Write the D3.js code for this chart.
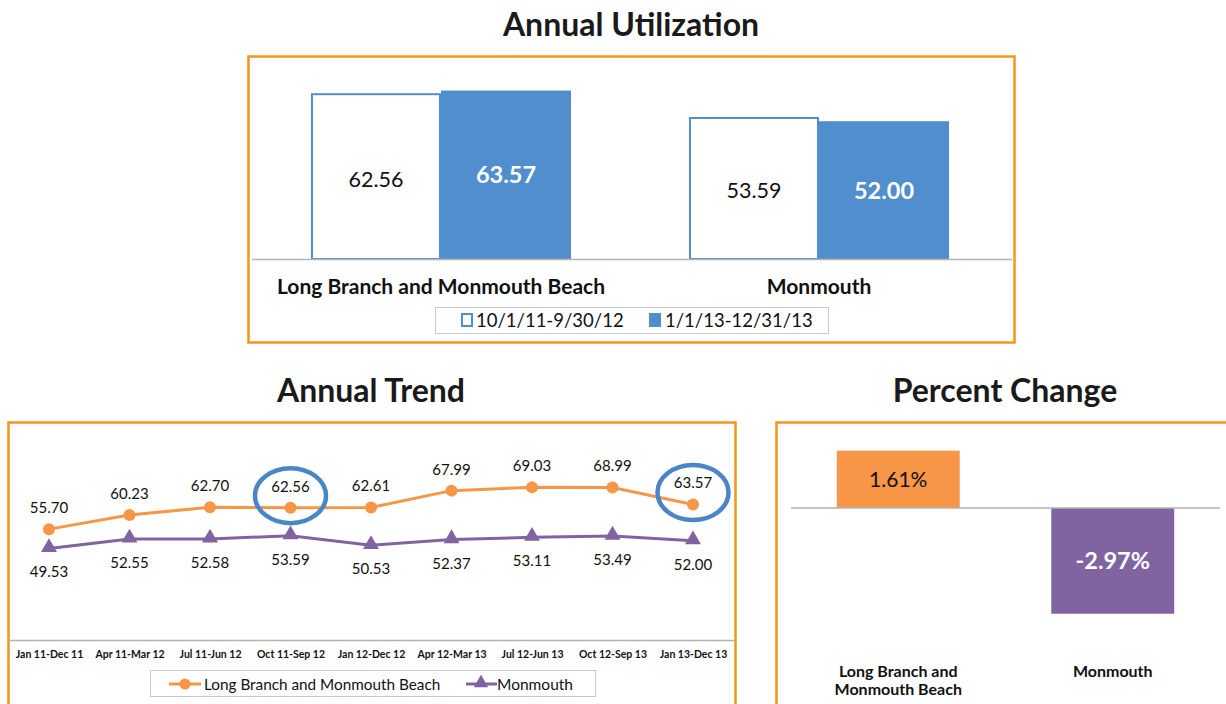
<!DOCTYPE html>
<html>
<head>
<meta charset="utf-8">
<script src="https://cdn.jsdelivr.net/npm/d3@7"></script>
<style>
  html, body { margin: 0; padding: 0; background: #fff; }
  svg { display: block; font-family: Lato, "Open Sans", sans-serif; }
</style>
</head>
<body>
<svg id="chart" width="1226" height="704"></svg>
<script>
// ---- Annual Utilization ----
const utilCategories = ["Long Branch and Monmouth Beach", "Monmouth"];
const utilPeriods = ["10/1/11-9/30/12", "1/1/13-12/31/13"];
const utilPrior = [62.56, 53.59];
const utilCurrent = [63.57, 52.00];

// ---- Annual Trend ----
const trendPeriods = ["Jan 11-Dec 11", "Apr 11-Mar 12", "Jul 11-Jun 12", "Oct 11-Sep 12",
  "Jan 12-Dec 12", "Apr 12-Mar 13", "Jul 12-Jun 13", "Oct 12-Sep 13", "Jan 13-Dec 13"];
const trendLongBranch = [55.70, 60.23, 62.70, 62.56, 62.61, 67.99, 69.03, 68.99, 63.57];
const trendMonmouth = [49.53, 52.55, 52.58, 53.59, 50.53, 52.37, 53.11, 53.49, 52.00];
const trendSeriesNames = ["Long Branch and Monmouth Beach", "Monmouth"];
const highlightedPeriods = ["Oct 11-Sep 12", "Jan 13-Dec 13"];

// ---- Percent Change ----
const changeCategories = [["Long Branch and", "Monmouth Beach"], ["Monmouth"]];
const changeValues = [1.61, -2.97];

const ORANGE_FRAME = "#f7941e";
const BLUE = "#508ecd";
const ORANGE = "#f79646";
const PURPLE = "#8064a2";
const AXIS_GRAY = "#b3b3b3";
const RING = "#4a86c5";

const svg = d3.select("#chart");

function frame(x, y, w, h) {
  svg.append("rect").attr("x", x).attr("y", y).attr("width", w).attr("height", h)
    .attr("fill", "none").attr("stroke", ORANGE_FRAME).attr("stroke-width", 2.5);
}
function title(text, x, y) {
  svg.append("text").attr("x", x).attr("y", y).attr("text-anchor", "middle")
    .attr("font-size", 32).attr("font-weight", "bold").attr("fill", "#1a1a1a").text(text);
}

// ================= Annual Utilization =================
title("Annual Utilization", 631, 36);
frame(248.5, 56.5, 766, 286);

const uX0 = d3.scaleBand().domain(utilCategories).range([252, 1008])
  .paddingInner(0.312).paddingOuter(0.156);
const uX1 = d3.scaleBand().domain(utilPeriods).range([0, uX0.bandwidth()]);
const uY = d3.scaleLinear().domain([0, 70]).range([259, 73.5]);

const uRows = utilCategories.map((c, i) => ({ cat: c, vals: [utilPrior[i], utilCurrent[i]] }));
const uG = svg.append("g");
uRows.forEach(row => {
  row.vals.forEach((v, j) => {
    const x = uX0(row.cat) + uX1(utilPeriods[j]);
    const w = uX1.bandwidth();
    if (j === 0) {
      uG.append("rect").attr("x", x + 1).attr("y", uY(v) + 1)
        .attr("width", w - 2).attr("height", uY(0) - uY(v) - 1)
        .attr("fill", "#fff").attr("stroke", BLUE).attr("stroke-width", 2);
    } else {
      uG.append("rect").attr("x", x).attr("y", uY(v))
        .attr("width", w).attr("height", uY(0) - uY(v)).attr("fill", BLUE);
    }
    uG.append("text").attr("x", x + w / 2).attr("y", (uY(v) + uY(0)) / 2 + (j === 1 ? 8.5 : 10.5))
      .attr("text-anchor", "middle").attr("font-size", j === 1 ? 23.5 : 21.5)
      .attr("font-weight", j === 1 ? "bold" : "normal")
      .attr("fill", j === 1 ? "#fff" : "#111").text(v.toFixed(2));
  });
});
// category axis
svg.append("line").attr("x1", 252).attr("x2", 1012).attr("y1", 259.5).attr("y2", 259.5)
  .attr("stroke", AXIS_GRAY).attr("stroke-width", 1.5);
utilCategories.forEach(c => {
  svg.append("text").attr("x", uX0(c) + uX0.bandwidth() / 2).attr("y", 294)
    .attr("text-anchor", "middle").attr("font-size", 21).attr("font-weight", "bold")
    .attr("fill", "#111").text(c);
});
// legend
svg.append("rect").attr("x", 435.5).attr("y", 307.5).attr("width", 393).attr("height", 26)
  .attr("fill", "#fff").attr("stroke", "#c8c8c8");
svg.append("rect").attr("x", 462).attr("y", 314).attr("width", 10).attr("height", 12)
  .attr("fill", "#fff").attr("stroke", BLUE).attr("stroke-width", 2);
svg.append("text").attr("x", 476).attr("y", 327).attr("font-size", 18.5).attr("fill", "#111")
  .text(utilPeriods[0]);
svg.append("rect").attr("x", 649).attr("y", 313).attr("width", 12).attr("height", 14)
  .attr("fill", BLUE);
svg.append("text").attr("x", 665).attr("y", 327).attr("font-size", 18.5).attr("fill", "#111")
  .text(utilPeriods[1]);

// ================= Annual Trend =================
title("Annual Trend", 371, 402);
frame(8.5, 422.5, 727, 300);

const tX = d3.scalePoint().domain(trendPeriods).range([49, 693]);
const tY = d3.scaleLinear().domain([20, 80]).range([641, 453]);

svg.append("line").attr("x1", 9).attr("x2", 735).attr("y1", 640.5).attr("y2", 640.5)
  .attr("stroke", AXIS_GRAY).attr("stroke-width", 1.5);
const tAxis = d3.axisBottom(tX).tickSize(0).tickPadding(0);
const tAxisG = svg.append("g").attr("transform", "translate(0,651)").call(tAxis);
tAxisG.select(".domain").remove();
tAxisG.selectAll("text").attr("font-size", 10.5).attr("font-weight", "bold")
  .attr("fill", "#111").attr("font-family", "Lato, sans-serif");

const line = d3.line().x((d, i) => tX(trendPeriods[i])).y(d => tY(d));

svg.append("path").datum(trendMonmouth).attr("d", line).attr("fill", "none")
  .attr("stroke", PURPLE).attr("stroke-width", 3);
svg.append("path").datum(trendLongBranch).attr("d", line).attr("fill", "none")
  .attr("stroke", ORANGE).attr("stroke-width", 3);

const tri = d3.symbol().type(d3.symbolTriangle).size(110);
svg.append("g").selectAll("path").data(trendMonmouth).join("path")
  .attr("d", tri)
  .attr("transform", (d, i) => `translate(${tX(trendPeriods[i])},${tY(d) - 1})`)
  .attr("fill", PURPLE);
svg.append("g").selectAll("circle").data(trendLongBranch).join("circle")
  .attr("cx", (d, i) => tX(trendPeriods[i])).attr("cy", d => tY(d)).attr("r", 6)
  .attr("fill", ORANGE);

svg.append("g").selectAll("text").data(trendLongBranch).join("text")
  .attr("x", (d, i) => tX(trendPeriods[i])).attr("y", d => tY(d) - 16)
  .attr("text-anchor", "middle").attr("font-size", 15).attr("fill", "#111")
  .text(d => d.toFixed(2));
svg.append("g").selectAll("text").data(trendMonmouth).join("text")
  .attr("x", (d, i) => tX(trendPeriods[i])).attr("y", d => tY(d) + 29)
  .attr("text-anchor", "middle").attr("font-size", 15).attr("fill", "#111")
  .text(d => d.toFixed(2));

// rings around the two periods compared above
highlightedPeriods.forEach(p => {
  const i = trendPeriods.indexOf(p);
  svg.append("ellipse").attr("cx", tX(p)).attr("cy", tY(trendLongBranch[i]) - 12)
    .attr("rx", 35.5).attr("ry", 27.5).attr("fill", "none")
    .attr("stroke", RING).attr("stroke-width", 4.5);
});

// legend
svg.append("rect").attr("x", 150.5).attr("y", 670.5).attr("width", 445).attr("height", 26)
  .attr("fill", "#fff").attr("stroke", "#c8c8c8");
svg.append("line").attr("x1", 169).attr("x2", 201).attr("y1", 684).attr("y2", 684)
  .attr("stroke", ORANGE).attr("stroke-width", 3);
svg.append("circle").attr("cx", 185).attr("cy", 684).attr("r", 5.5).attr("fill", ORANGE);
svg.append("text").attr("x", 204).attr("y", 690).attr("font-size", 15.3).attr("fill", "#111")
  .text(trendSeriesNames[0]);
svg.append("line").attr("x1", 466).attr("x2", 497).attr("y1", 684).attr("y2", 684)
  .attr("stroke", PURPLE).attr("stroke-width", 3);
svg.append("path").attr("d", d3.symbol().type(d3.symbolTriangle).size(90))
  .attr("transform", "translate(481,683)").attr("fill", PURPLE);
svg.append("text").attr("x", 497).attr("y", 690).attr("font-size", 15.5).attr("fill", "#111")
  .text(trendSeriesNames[1]);

// ================= Percent Change =================
title("Percent Change", 1005, 402);
frame(776.5, 422.5, 470, 300);

const pKeys = changeCategories.map(c => c.join(" "));
const pX = d3.scaleBand().domain(pKeys).range([791, 1220]).paddingInner(0.427).paddingOuter(0.2135);
const pY = d3.scaleLinear().domain([-3, 2]).range([614.8, 436.8]);

pKeys.forEach((k, i) => {
  const v = changeValues[i];
  const x = pX(k), w = pX.bandwidth();
  const y0 = Math.min(pY(v), pY(0)), h = Math.abs(pY(v) - pY(0));
  svg.append("rect").attr("x", x).attr("y", y0).attr("width", w).attr("height", h)
    .attr("fill", v >= 0 ? ORANGE : PURPLE);
  svg.append("text").attr("x", x + w / 2).attr("y", y0 + h / 2 + 8)
    .attr("text-anchor", "middle").attr("font-size", v >= 0 ? 21 : 23.5)
    .attr("font-weight", v >= 0 ? "normal" : "bold")
    .attr("fill", v >= 0 ? "#111" : "#fff").text(v.toFixed(2) + "%");
  const lbl = svg.append("text").attr("text-anchor", "middle").attr("font-size", 16)
    .attr("font-weight", "bold").attr("fill", "#111");
  changeCategories[i].forEach((ln, j) => {
    lbl.append("tspan").attr("x", x + w / 2).attr("y", 677 + j * 18).text(ln);
  });
});
svg.append("line").attr("x1", 791).attr("x2", 1220).attr("y1", pY(0)).attr("y2", pY(0))
  .attr("stroke", AXIS_GRAY).attr("stroke-width", 1.5);
</script>
</body>
</html>
